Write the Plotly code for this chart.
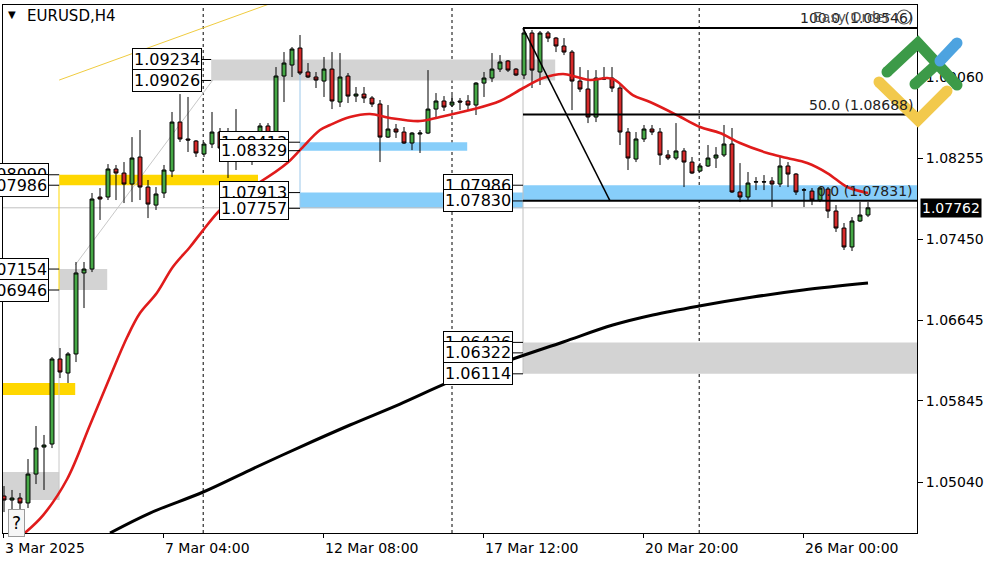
import plotly.graph_objects as go

# ---------------- data (EURUSD H4) ----------------
bar_index = list(range(109))
opens = [1.04901,1.04861,1.04881,1.04832,1.05119,1.05387,1.05417,1.06261,1.06122,1.06311,
         1.07115,1.07154,1.07869,1.07869,1.08147,1.08107,1.07998,1.08266,1.07968,1.07789,
         1.07909,1.08127,1.08613,1.08445,1.08425,1.08296,1.08395,1.08514,1.08355,1.08514,
         1.08365,1.08286,1.08365,1.08574,1.08385,1.09070,1.09179,1.09348,1.09110,1.09060,
         1.09020,1.09139,1.08812,1.09070,1.08871,1.08891,1.08852,1.08792,1.08464,1.08544,
         1.08514,1.08405,1.08494,1.08504,1.08742,1.08822,1.08782,1.08822,1.08822,1.08782,
         1.09000,1.09050,1.09139,1.09219,1.09139,1.09080,1.09497,1.09110,1.09497,1.09447,
         1.09368,1.09308,1.09020,1.08941,1.08663,1.09050,1.09050,1.08951,1.08514,1.08246,
         1.08445,1.08544,1.08514,1.08286,1.08256,1.08326,1.08216,1.08127,1.08177,1.08256,
         1.08286,1.08395,1.07919,1.07869,1.08018,1.08018,1.08028,1.07998,1.08177,1.08097,
         1.07938,1.07928,1.07839,1.07948,1.07730,1.07561,1.07373,1.07631,1.07690]
highs = [1.05000,1.04961,1.04931,1.05268,1.05596,1.05507,1.06281,1.06370,1.06330,1.07224,
         1.07224,1.07909,1.07958,1.08196,1.08187,1.08216,1.08464,1.08534,1.08038,1.07968,
         1.08187,1.08713,1.08891,1.08862,1.08435,1.08415,1.08713,1.08554,1.08554,1.08742,
         1.08385,1.08405,1.08603,1.08603,1.09159,1.09308,1.09358,1.09477,1.09199,1.09110,
         1.09259,1.09308,1.09298,1.09100,1.08961,1.08961,1.08871,1.08832,1.08782,1.08594,
         1.08564,1.08514,1.08534,1.09129,1.08901,1.08871,1.08881,1.08852,1.08881,1.09010,
         1.09110,1.09298,1.09278,1.09229,1.09149,1.09546,1.09527,1.09517,1.09517,1.09457,
         1.09447,1.09328,1.09159,1.09129,1.09129,1.09159,1.09159,1.08981,1.08554,1.08514,
         1.08584,1.08584,1.08554,1.08335,1.08603,1.08355,1.08266,1.08206,1.08385,1.08365,
         1.08584,1.08554,1.08206,1.08117,1.08067,1.08087,1.08067,1.08266,1.08216,1.08107,
         1.07958,1.07958,1.07968,1.07968,1.07789,1.07611,1.07670,1.07819,1.07819]
lows = [1.04742,1.04762,1.04742,1.04782,1.05020,1.04961,1.05377,1.06072,1.06023,1.06231,
        1.06767,1.07124,1.07641,1.07839,1.07839,1.07809,1.07819,1.07839,1.07660,1.07740,
        1.07859,1.08067,1.08415,1.08316,1.08266,1.08266,1.08355,1.08266,1.08058,1.08137,
        1.08216,1.08187,1.08316,1.08365,1.08365,1.08812,1.09060,1.09080,1.09050,1.08951,
        1.08862,1.08742,1.08762,1.08802,1.08812,1.08802,1.08762,1.08216,1.08455,1.08455,
        1.08395,1.08335,1.08306,1.08494,1.08653,1.08723,1.08762,1.08732,1.08732,1.08683,
        1.08862,1.09010,1.09110,1.09110,1.09070,1.09040,1.08951,1.08981,1.09407,1.09308,
        1.09278,1.08732,1.08911,1.08603,1.08613,1.09030,1.08911,1.08385,1.08137,1.08216,
        1.08415,1.08484,1.08187,1.08236,1.08236,1.07968,1.08097,1.08117,1.08167,1.08157,
        1.08266,1.07909,1.07819,1.07839,1.07938,1.07938,1.07770,1.07968,1.07968,1.07889,
        1.07770,1.07789,1.07819,1.07660,1.07522,1.07343,1.07333,1.07621,1.07670]
closes = [1.04861,1.04881,1.04832,1.05119,1.05377,1.05407,1.06261,1.06132,1.06311,1.07115,
          1.07154,1.07849,1.07849,1.08147,1.08107,1.07998,1.08256,1.07968,1.07799,1.07899,
          1.08137,1.08613,1.08445,1.08435,1.08306,1.08395,1.08514,1.08355,1.08504,1.08345,
          1.08286,1.08355,1.08574,1.08385,1.09070,1.09199,1.09338,1.09100,1.09060,1.09030,
          1.09139,1.08822,1.09060,1.08871,1.08891,1.08852,1.08792,1.08464,1.08544,1.08514,
          1.08405,1.08504,1.08504,1.08742,1.08822,1.08762,1.08812,1.08812,1.08782,1.09000,
          1.09050,1.09139,1.09209,1.09129,1.09080,1.09497,1.09129,1.09497,1.09447,1.09368,
          1.09308,1.09020,1.08941,1.08663,1.09050,1.09040,1.08951,1.08514,1.08256,1.08445,
          1.08544,1.08514,1.08286,1.08256,1.08326,1.08216,1.08107,1.08177,1.08256,1.08286,
          1.08395,1.07919,1.07869,1.08008,1.08020,1.08020,1.07998,1.08177,1.08097,1.07919,
          1.07940,1.07839,1.07958,1.07730,1.07561,1.07373,1.07631,1.07690,1.07762]

ma_fast_bar = [2.6,4.9,7.9,10.75,13.25,15.4,17,19.1,21.1,23.25,24.9,27,29.5,32,35.4,37,39.5,
               40.75,43.25,45.75,48.25,52,54.5,58.25,62,64.9,67.4,69.9,71.6,73.25,75.4,76.4,
               78.6,80.75,84.1,87,89.5,92,95.4,97.9,100.4,102.9,105.4,107.4,108]
ma_fast_val = [1.04534,1.04712,1.05070,1.05606,1.06082,1.06479,1.06717,1.06916,1.07174,1.07373,
               1.07541,1.07740,1.07909,1.08018,1.08206,1.08335,1.08534,1.08584,1.08663,1.08693,
               1.08653,1.08623,1.08663,1.08732,1.08822,1.08951,1.09050,1.09090,1.09060,1.09030,
               1.09050,1.09030,1.08881,1.08812,1.08683,1.08564,1.08504,1.08405,1.08306,1.08256,
               1.08206,1.08107,1.07968,1.07919,1.07909]
ma_slow_bar = [13.25,18.25,24.9,30.75,37,43.25,49.5,56,63.25,69.9,76.1,81.1,86.9,93.6,99.9,108]
ma_slow_val = [1.04534,1.04732,1.04941,1.05159,1.05387,1.05606,1.05814,1.06043,1.06251,1.06430,
               1.06598,1.06698,1.06787,1.06876,1.06946,1.07015]

date_tick_bars = [0, 20, 40, 60, 80, 100]
date_tick_labels = ["3 Mar 2025", "7 Mar 04:00", "12 Mar 08:00", "17 Mar 12:00",
                    "20 Mar 20:00", "26 Mar 00:00"]
price_ticks = [1.09060, 1.08255, 1.07450, 1.06645, 1.05845, 1.05040]
week_separators = [24.9, 56.0, 86.9]
last_price = 1.07762

fib_start_bar, fib_end_bar = 64.875, 75.75
fib_levels = ["100.0", "50.0", "0.0"]
fib_prices = [1.09546, 1.08688, 1.07831]

zone_x0 = [25.9, 6.9, -0.2, 6.9, -0.2, 37, 37, 64.875, 64.875]
zone_x1 = [68.9, 31.75, 8.9, 12.9, 6.9, 57.9, 64.875, 115, 115]
zone_lo = [1.09026, 1.07986, 1.05904, 1.06946, 1.04861, 1.08329, 1.07757, 1.07830, 1.06114]
zone_hi = [1.09234, 1.08090, 1.06023, 1.07154, 1.05139, 1.08413, 1.07913, 1.07986, 1.06426]
zone_col = ["#d3d3d3", "#ffd700", "#ffd700", "#d3d3d3", "#d3d3d3", "#87cefa", "#87cefa",
            "#87cefa", "#d3d3d3"]

label_box_right = [24.75, 35.6, 35.6, 5.6, 5.6, 63.6, 63.6]
label_zone_start = [25.9, 37, 37, 6.9, 6.9, 64.875, 64.875]
label_prices = [[1.09234, 1.09026], [1.08413, 1.08329], [1.07913, 1.07757],
                [1.08090, 1.07986], [1.07154, 1.06946], [1.07986, 1.07830],
                [1.06426, 1.06322, 1.06114]]

# trend lines (bar, price) pairs
trend_yellow = ([6.9, 33.5], [1.09030, 1.09795])
trend_gray = ([8.9, 26.1], [1.07194, 1.09030])

FONT = "DejaVu Sans"
X0, X1 = -0.125, 114.125
Y0, Y1 = 1.04534, 1.09775

fig = go.Figure()

fig.add_trace(go.Candlestick(
    x=bar_index, open=opens, high=highs, low=lows, close=closes,
    increasing=dict(fillcolor="#46a846", line=dict(color="black", width=1)),
    decreasing=dict(fillcolor="#d62a2a", line=dict(color="black", width=1)),
    whiskerwidth=0, showlegend=False, hoverinfo="skip"))

fig.add_trace(go.Scatter(x=ma_slow_bar, y=ma_slow_val, mode="lines",
                         line=dict(color="black", width=3, shape="spline"),
                         showlegend=False, hoverinfo="skip"))
fig.add_trace(go.Scatter(x=ma_fast_bar, y=ma_fast_val, mode="lines",
                         line=dict(color="#e01b1b", width=2.6, shape="spline"),
                         showlegend=False, hoverinfo="skip"))

shapes = []
for x0, x1, lo, hi, c in zip(zone_x0, zone_x1, zone_lo, zone_hi, zone_col):
    shapes.append(dict(type="rect", xref="x", yref="y", x0=x0, x1=x1, y0=lo, y1=hi,
                       fillcolor=c, line=dict(width=0), layer="below"))
# bid line
shapes.append(dict(type="line", xref="x", yref="y", x0=X0, x1=X1, y0=last_price, y1=last_price,
                   line=dict(color="#c0c0c0", width=1), layer="below"))
# week separators
for s in week_separators:
    shapes.append(dict(type="line", xref="x", yref="paper", x0=s, x1=s, y0=0, y1=1,
                       line=dict(color="black", width=1, dash="3px,3px"), layer="below"))
# zone edge verticals
shapes.append(dict(type="line", xref="x", yref="y", x0=6.875, x1=6.875, y0=1.07986, y1=1.06946,
                   line=dict(color="#ffd700", width=1), layer="below"))
shapes.append(dict(type="line", xref="x", yref="y", x0=6.875, x1=6.875, y0=1.06946, y1=1.04861,
                   line=dict(color="#c8c8c8", width=1), layer="below"))
shapes.append(dict(type="line", xref="x", yref="y", x0=37, x1=37, y0=1.09100, y1=1.07757,
                   line=dict(color="#9cc8ea", width=1), layer="below"))
shapes.append(dict(type="line", xref="x", yref="y", x0=64.875, x1=64.875, y0=1.09546, y1=1.06114,
                   line=dict(color="#c0c0c0", width=1), layer="below"))
# trend lines
shapes.append(dict(type="line", xref="x", yref="y", x0=trend_yellow[0][0], x1=trend_yellow[0][1],
                   y0=trend_yellow[1][0], y1=trend_yellow[1][1],
                   line=dict(color="#f0cc40", width=1), layer="below"))
shapes.append(dict(type="line", xref="x", yref="y", x0=trend_gray[0][0], x1=trend_gray[0][1],
                   y0=trend_gray[1][0], y1=trend_gray[1][1],
                   line=dict(color="#c8c8c8", width=1), layer="below"))
# fibonacci
for p in fib_prices:
    shapes.append(dict(type="line", xref="x", yref="y", x0=fib_start_bar, x1=X1, y0=p, y1=p,
                       line=dict(color="black", width=2)))
shapes.append(dict(type="line", xref="x", yref="y", x0=fib_start_bar, x1=fib_end_bar,
                   y0=fib_prices[0], y1=fib_prices[-1], line=dict(color="black", width=1.5)))
# label connectors
for br, zs, plist in zip(label_box_right, label_zone_start, label_prices):
    for p in plist:
        shapes.append(dict(type="line", xref="x", yref="y", x0=br, x1=zs, y0=p, y1=p,
                           line=dict(color="black", width=1)))

# ---- logo (decoration, pixel -> paper) ----
def pxx(x):
    return (x - 3) / 914.0

def pyy(y):
    return (533 - y) / 528.0

logo = [("#3c9a48", [(887, 72), (918, 43), (957, 85)]),
        ("#3c9a48", [(915, 84), (937, 64)]),
        ("#4da3e0", [(940, 61), (957, 43)]),
        ("#f2c94c", [(879, 82), (918, 120), (947, 91)])]
W = 11
for col, pts in logo:
    path = "M " + " L ".join(f"{pxx(x)},{pyy(y)}" for x, y in pts)
    shapes.append(dict(type="path", xref="paper", yref="paper", path=path,
                       line=dict(color=col, width=W)))
    for x, y in (pts[0], pts[-1]):
        shapes.append(dict(type="circle", xref="paper", yref="paper",
                           x0=pxx(x - W / 2), x1=pxx(x + W / 2),
                           y0=pyy(y + W / 2), y1=pyy(y - W / 2),
                           fillcolor=col, line=dict(width=0)))

annotations = []
for br, plist in zip(label_box_right, label_prices):
    for p in plist:
        annotations.append(dict(x=br, y=p, xref="x", yref="y", text=f"{p:.5f}",
                                showarrow=False, xanchor="right", yanchor="middle",
                                bgcolor="white", bordercolor="black", borderwidth=1,
                                borderpad=1, font=dict(family=FONT, size=16, color="black")))
for lev, p in zip(fib_levels, fib_prices):
    annotations.append(dict(x=0.998, y=p, xref="paper", yref="y", text=f"{lev} ({p:.5f})",
                            showarrow=False, xanchor="right", yanchor="bottom", yshift=0,
                            font=dict(family=FONT, size=14, color="#222222")))
annotations.append(dict(x=pxx(811), y=pyy(17), xref="paper", yref="paper", text="Easy Order",
                        showarrow=False, xanchor="left", yanchor="middle",
                        font=dict(family=FONT, size=14, color="#555555")))
shapes.append(dict(type="circle", xref="paper", yref="paper", x0=pxx(897), x1=pxx(911),
                   y0=pyy(24), y1=pyy(10), line=dict(color="#555555", width=1.2)))
# date labels
for b, t in zip(date_tick_bars, date_tick_labels):
    annotations.append(dict(x=b - 0.125, y=pyy(548), xref="x", yref="paper", text=t,
                            showarrow=False, xanchor="left", yanchor="middle",
                            font=dict(family=FONT, size=14, color="black")))
# last price tag
annotations.append(dict(x=pxx(920), y=last_price, xref="paper", yref="y",
                        text=f"{last_price:.5f}", showarrow=False, xanchor="left",
                        yanchor="middle", bgcolor="black", borderpad=1,
                        font=dict(family=FONT, size=14, color="white")))
# title
annotations.append(dict(x=pxx(12), y=pyy(15), xref="paper", yref="paper", text="▼",
                        showarrow=False, xanchor="center", yanchor="middle",
                        font=dict(family=FONT, size=10, color="black")))
annotations.append(dict(x=pxx(25), y=pyy(16), xref="paper", yref="paper", text="EURUSD,H4",
                        showarrow=False, xanchor="left", yanchor="middle",
                        font=dict(family=FONT, size=15, color="black")))
annotations.append(dict(x=pxx(16), y=pyy(523), xref="paper", yref="paper", text="?",
                        showarrow=False, xanchor="center", yanchor="middle",
                        bgcolor="#f6f6f6", bordercolor="#9a9a9a", borderwidth=1, borderpad=3,
                        font=dict(family=FONT, size=17, color="black")))

fig.update_layout(
    width=1000, height=562,
    margin=dict(l=3, r=83, t=5, b=29),
    paper_bgcolor="white", plot_bgcolor="white",
    showlegend=False, hovermode=False,
    shapes=shapes, annotations=annotations,
    xaxis=dict(range=[X0, X1], rangeslider=dict(visible=False), showgrid=False,
               zeroline=False, showline=True, linecolor="black", linewidth=1, mirror=True,
               tickmode="array", tickvals=[b - 0.125 for b in date_tick_bars],
               ticks="outside", ticklen=4, tickcolor="black", showticklabels=False),
    yaxis=dict(range=[Y0, Y1], side="right", showgrid=False, zeroline=False,
               showline=True, linecolor="black", linewidth=1, mirror=True,
               tickmode="array", tickvals=price_ticks,
               ticktext=[f"{p:.5f}" for p in price_ticks],
               ticks="outside", ticklen=5, tickcolor="black",
               tickfont=dict(family=FONT, size=14, color="black")),
)

fig.write_html("out.html", config={"displayModeBar": False},
               post_script="document.body.style.margin='0';document.body.style.padding='0';")
